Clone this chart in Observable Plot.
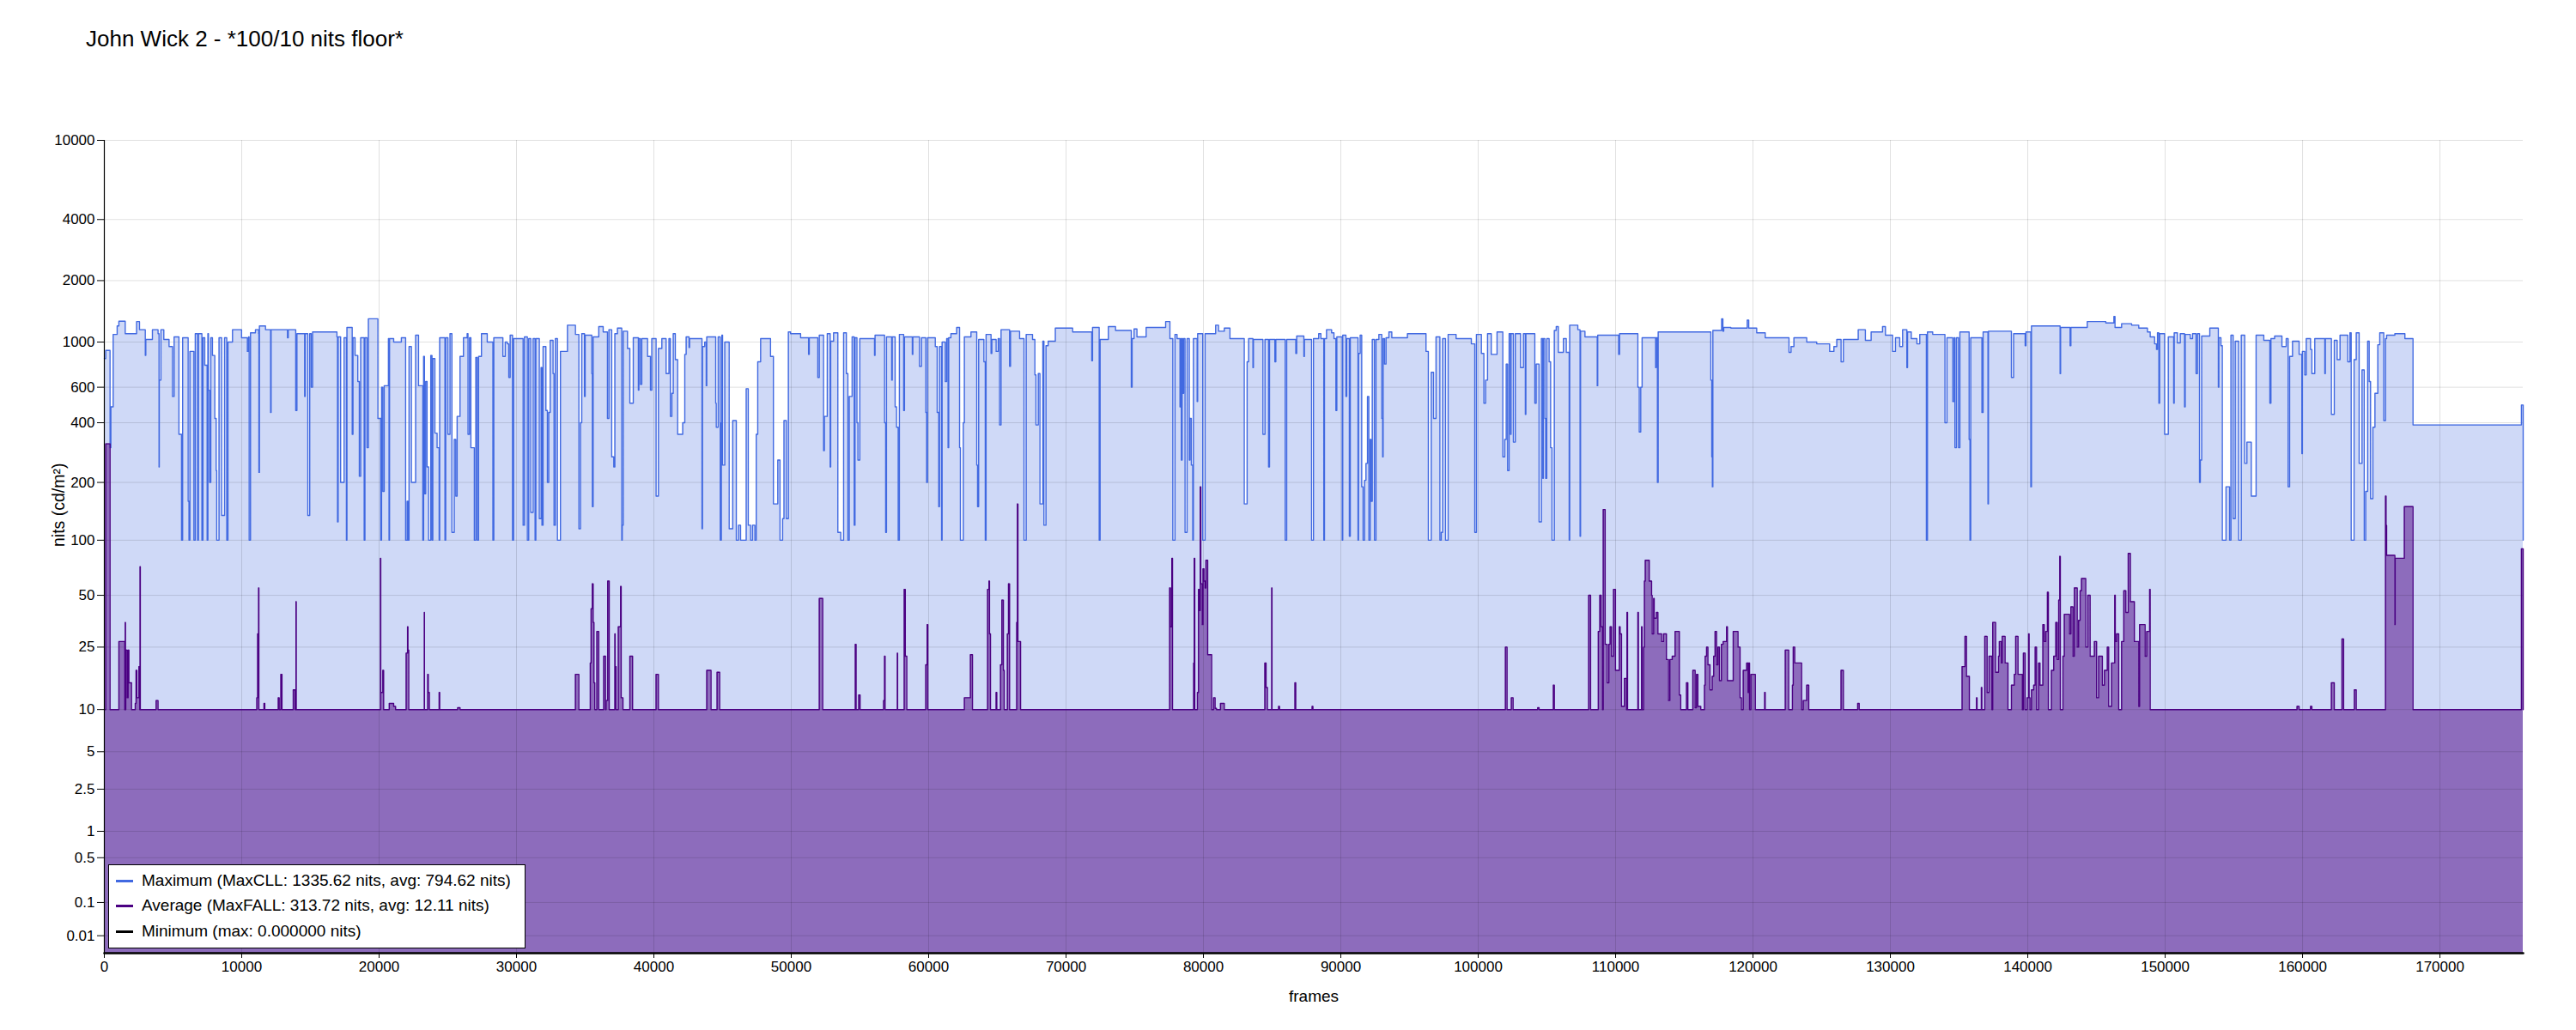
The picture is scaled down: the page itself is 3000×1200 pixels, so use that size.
<!DOCTYPE html>
<html><head><meta charset="utf-8">
<script src="https://cdn.jsdelivr.net/npm/d3@7"></script>
<script src="https://cdn.jsdelivr.net/npm/@observablehq/plot@0.6"></script>
<style>
html,body{margin:0;padding:0;background:#fff;}
body{width:3000px;height:1200px;position:relative;overflow:hidden;font-family:"Liberation Sans",Arial,sans-serif;color:#000;}
#title{position:absolute;left:100px;top:32px;font-size:26px;line-height:26px;white-space:nowrap;}
#chart{position:absolute;left:0;top:80px;}
#legend{position:absolute;left:126px;top:1007px;width:484px;height:96px;border:1px solid #000;background:#fff;font-size:19px;}
.sw{position:absolute;left:8px;width:20px;height:3px;}
.lt{position:absolute;left:38px;height:22px;line-height:22px;white-space:nowrap;}
</style></head>
<body>
<div id="title">John Wick 2 - *100/10 nits floor*</div>
<div id="chart"></div>
<div id="legend"></div>
<script>
// ---- data (frame, nits) step transitions ----
const maxSteps = [
[0,830],[102,910],[415,300],[477,480],[644,1090],[935,1200],[1060,1265],[1520,1100],[2350,1260],[2560,1150],[2980,860],[3020,1030],[3500,1150],[3910,1100],[3980,240],[4000,650],[4120,1150],[4330,1030],[4710,950],[4960,540],[5080,1060],[5430,350],[5620,100],[5700,1050],[6100,160],[6160,100],[6230,900],[6520,100],[6620,1100],[6790,100],[6850,1100],[7100,100],[7180,1050],[7310,770],[7480,100],[7540,1100],[7580,580],[7660,200],[7750,1050],[7870,860],[8040,420],[8140,230],[8180,100],[8350,1050],[8540,135],[8750,1050],[8910,100],[9000,1000],[9330,1150],[9990,1050],[10410,900],[10500,1060],[10540,100],[10640,1110],[11000,1150],[11230,1100],[11250,225],[11290,1200],[11730,1150],[12100,450],[12140,1150],[13330,1050],[13390,1150],[13930,460],[14020,1100],[14580,540],[14620,1100],[14810,135],[14950,1100],[15060,600],[15160,1120],[16930,1060],[16970,125],[17020,1060],[17200,200],[17450,1050],[17620,100],[17660,1180],[18040,350],[18100,1050],[18250,860],[18450,640],[18560,215],[18660,1050],[18910,100],[18970,1050],[19120,300],[19220,1300],[19910,420],[20120,100],[20180,600],[20270,180],[20370,610],[20680,1040],[20720,100],[20760,1040],[21060,1000],[21620,1050],[21930,100],[22040,160],[22100,100],[22180,950],[22350,200],[22660,1080],[22870,610],[23180,100],[23240,850],[23300,175],[23390,640],[23490,240],[23600,100],[23760,860],[23850,100],[23910,830],[24060,355],[24220,300],[24370,100],[24410,1050],[24790,100],[24850,1050],[25010,350],[25160,1100],[25300,110],[25470,330],[25580,170],[25680,430],[25890,850],[26140,1050],[26410,1100],[26470,350],[26580,1050],[26680,300],[26930,100],[27040,840],[27140,100],[27240,850],[27450,1100],[27870,1000],[28280,100],[28350,1050],[29010,850],[29180,1000],
[29330,980],[29440,670],[29540,1080],[29710,100],[29790,1040],[30480,120],[30580,1060],[30790,100],[30890,1040],[31040,140],[31210,1040],[31350,100],[31410,1040],[31660,130],[31790,750],[31850,120],[31935,950],[32140,460],[32250,200],[32350,450],[32455,1020],[32660,700],[32730,120],[32830,1040],[32980,100],[33200,900],[33710,1210],[34290,1090],[34540,115],[34660,400],[34750,1100],[34950,540],[35000,1080],[35480,700],[35520,150],[35580,1060],[35990,1190],[36310,1120],[36620,420],[36730,1150],[36930,270],[37080,240],[37160,1100],[37350,1170],[37660,100],[37700,120],[37770,1130],[38080,930],[38250,500],[38500,1050],[38870,580],[38910,1040],[39020,620],[39120,1040],[39540,850],[39750,580],[39850,1040],[40160,170],[40330,930],[40580,1040],[40890,700],[41100,1040],[41200,430],[41310,560],[41410,1100],[41560,820],[41730,350],[42100,400],[42250,870],[42350,1060],[42560,940],[42600,1040],[43500,115],[43540,950],[43700,1000],[43810,610],[43850,1060],[44500,500],[44540,380],[44680,1060],[44830,100],[44910,400],[44950,1080],[45000,245],[45160,1000],[45480,115],[45740,410],[46000,100],[46160,120],[46310,100],[46720,590],[46870,120],[47040,100],[47180,120],[47350,100],[47450,350],[47560,800],[47770,1040],[48490,850],[48700,155],[49020,260],[49180,100],[49370,130],[49470,410],[49640,130],[49790,1120],[49950,1100],[50680,1050],[51260,870],[51310,1050],[51930,670],[52040,1080],[52350,290],[52410,430],[52620,1100],[52830,240],[52870,1010],[53080,1110],[53390,110],[53600,100],[53810,1110],[54010,700],[54120,100],[54220,540],[54430,1060],[54580,120],[54640,1050],[54780,400],[54850,260],[54990,1040],[56060,860],[56100,1080],[56790,400],[56870,110],[56930,1060],[57310,650],[57350,1060],[57560,480],[57660,380],[57780,100],[57870,1090],[58180,460],[58240,1060],[58810,870],[58850,1060],
[59020,1060],[59330,760],[59480,1050],[59790,450],[59850,200],[59915,1050],[60480,950],[60620,450],[60730,150],[60790,950],[60940,100],[60980,1000],[61210,640],[61310,1040],[61410,300],[61460,1050],[61620,1100],[62040,1180],[62250,300],[62310,100],[62520,400],[62600,1060],[63080,1120],[63500,245],[63560,150],[63640,1030],[64020,800],[64120,100],[64180,1090],[64540,880],[64600,1030],[64910,900],[65060,1040],[65160,390],[65270,1150],[65890,760],[65960,1130],[66620,1040],[66940,100],[67100,1090],[67560,1030],[67730,690],[67810,390],[67980,700],[68100,155],[68310,1010],[68390,120],[68540,960],[68700,1010],[69220,1170],[70480,1120],[71870,810],[71930,1180],[72410,100],[72480,1030],[73080,1190],[73600,1140],[74750,600],[74810,1040],[74950,1160],[75160,1060],[75830,1180],[77250,1260],[77560,1040],[77770,100],[77930,1090],[78080,1040],[78290,480],[78350,1040],[78390,260],[78450,1040],[78500,560],[78560,1040],[78660,110],[78810,1040],[78970,260],[79020,420],[79120,245],[79220,100],[79270,1040],[79540,510],[79580,1100],[79950,100],[80120,1100],[80890,1210],[81100,1130],[81520,1170],[81930,1040],[82970,155],[83180,800],[83290,1040],[83600,750],[83640,1030],[84330,350],[84480,1030],[84740,240],[84810,1030],[85200,800],[85270,1030],[85950,100],[86060,1030],[86720,880],[86790,1070],[87310,850],[87350,1030],[87870,100],[88010,1040],[88390,1100],[88550,1040],[88760,100],
[88810,1040],[88960,1150],[89330,1110],[89500,1040],[89640,460],[89710,1060],[90100,100],[90140,1080],[90370,540],[90430,1040],[90620,105],[90690,1050],[91250,100],[91290,880],[91410,1080],[91520,190],[91620,100],[91730,205],[91830,250],[91940,540],[92040,100],[92140,330],[92200,160],[92290,1030],[92450,100],[92560,1030],[92770,1090],[92980,420],[93040,270],[93080,1040],[93180,780],[93290,1050],[93500,1120],[93710,1050],[94850,1100],[96200,900],[96370,100],[96580,710],[96750,420],[96930,1060],[97210,100],[97310,110],[97410,1040],[97620,100],[97810,1090],[98390,1040],[99500,980],[99750,110],[99870,1090],[100230,880],[100410,500],[100540,650],[100680,1100],[100950,870],[101370,1120],[101790,270],[101930,330],[102040,780],[102140,230],[102250,1100],[102350,350],[102390,1100],[102560,320],[102700,1100],[103080,750],[103290,1100],[103430,440],[103470,1100],[104120,500],[104220,780],[104430,125],[104600,1040],[104700,210],[104740,1040],[104850,420],[104910,210],[104990,1040],[105160,800],[105270,300],[105370,100],[105540,1140],[105680,1190],[105830,890],[106200,1040],[106410,890],[106620,100],[106660,1210],[107250,1150],[107410,105],[107450,1130],[107770,1060],[108660,610],[108700,1080],[110220,870],[110290,1100],[111620,600],[111720,360],[111830,600],[111930,1050],[112910,750],[112950,1050],[113040,200],[113100,1120],[116930,650],[117000,270],[117040,190],[117080,1140],[117720,1300],[117810,1130],[117870,1180],
[118390,1170],[119580,1280],[119690,1170],[120270,1110],[120890,1050],[121310,1050],[122620,890],[122770,950],[122980,1050],[123910,1000],[124640,980],[125580,900],[125890,950],[126100,1030],[126410,800],[126580,1030],[127660,1150],[128180,1020],[128600,1120],[129430,1190],[129640,1080],[130160,900],[130370,1050],[130680,950],[130890,1150],[131200,750],[131250,1120],[131520,1040],[131930,980],[132140,1090],[132620,100],[132700,1120],[133080,1090],[133970,400],[134120,1050],[134540,510],[134640,1050],[134700,300],[134810,1050],[134960,300],[135060,1120],[135730,330],[135790,100],[135850,1050],[136660,450],[136750,1120],[137100,155],[137140,1130],[138810,670],[138970,1100],[139810,960],[139870,1120],[140220,190],[140270,1200],[142350,700],[142390,1180],[143080,960],[143140,1180],[144330,1260],[145680,1240],[146270,1335.62],[146350,1180],[146830,1230],[147560,1210],
[148080,1170],[148710,1120],[148910,1060],[149230,980],[149370,920],[149440,1110],[149540,500],[149600,1100],[149960,350],[150230,1060],[150620,500],[150660,1110],[150890,990],[151100,1100],[151410,480],[151460,1090],[151830,1040],[151995,1100],[152250,700],[152350,1100],[152500,200],[152560,260],[152660,1070],[153250,1170],[153870,600],[153910,1050],[154060,960],[154160,100],[154430,190],[154690,100],[154790,1080],[154950,130],[155100,1010],[155350,100],[155540,1080],[155790,250],[155950,320],[156270,170],[156620,1080],[157180,1020],[157620,500],[157700,1040],[157970,1070],[158500,950],[158810,1040],[158950,190],[159060,850],[159270,1010],[159750,870],[159950,280],[159990,900],[160160,690],[160270,1040],[160580,920],[160680,700],[160890,1040],[161620,700],[161660,1040],[162100,440],[162310,1020],[162520,820],[162730,1080],[163290,800],[163450,1110],[163540,100],[163750,820],[163910,1110],[164120,250],[164330,730],[164490,100],[164600,180],[164740,1010],[164850,640],[164950,165],[165120,380],[165270,560],[165480,970],[165620,1110],[165910,410],[166040,1040],[166120,1080],[166720,1100],[167450,1040],[168040,390],[175930,490],[176060,100]
];
const avgSteps = [
[0,10],[100,313.72],[417,10],[1060,27],[1480,10],[1520,35],[1540,10],[1560,24],[1660,12],[1730,24],[1790,15],[1980,10],[2250,11],[2310,18],[2370,12],[2520,19],[2580,10],[2600,72],[2620,10],[3770,11.5],[3910,10],[11100,12],[11160,30],[11230,55],[11250,10],[11620,11],[11680,10],[12660,12],[12730,10],[12850,17],[12930,10],[13750,13.5],[13890,10],[13950,46],[13970,10],[20100,80],[20120,13],[20270,18],[20330,10],[20740,11],[21060,10.5],[21200,10],[21970,23],[22070,33],[22100,24],[22160,10],[23290,40],[23300,10],[23540,17],[23580,13],[23660,10],[24370,13],[24410,10],[25720,10.3],[25890,10],
[34290,17],[34540,10],[35370,20],[35430,42],[35520,58],[35580,35],[35640,15],[35700,10],[35850,31],[35990,10],[36350,22],[36480,10],[36520,11.5],[36640,60],[36750,10],[37160,30],[37180,19],[37250,10],[37410,33],[37580,56],[37620,12],[37750,10],[38250,22],[38450,10],[40160,17],[40330,10],[43850,18],[44160,10],[44600,17.5],[44790,10],[52040,48],[52290,10],[54660,26],[54720,10],[54910,12.5],[55010,10],[56720,11.5],[56790,22],[56830,10],[57720,23],[57740,10],[58220,54],[58300,22],[58410,10],
[59790,19.5],[59890,34],[59940,10],[62600,12],[63040,22.5],[63190,10],[64290,54],[64390,60],[64430,30],[64500,10],[64910,13],[64960,10],[65230,19.5],[65330,47],[65440,18],[65500,10],[65730,30],[65810,58],[65890,10],[66410,35],[66460,155],[66500,27],[66690,10],[77540,55],[77600,33],[77700,80],[77750,10],[79290,20],[79330,80],[79370,10],[79560,13],[79640,54],[79700,41],[79770,190],[79810,58],[79910,34],[79970,70],[80040,60],[80120,55],[80180,78],[80310,22.5],[80600,10],[80740,12],[80850,10.2],[80950,10],[81240,11],[81520,10],[84470,20],[84560,14],[84660,10],[84970,55],[84990,10],[85470,10.5],[85540,10],[86660,15],[86720,10],[87910,10.5],[87970,10],
[101980,25],[102100,10],[102410,12],[102540,10],[104330,10.3],[104430,10],[105470,14.5],[105540,10],[108040,50],[108180,10],[108740,31],[108850,50],[108950,33],[109040,10],[109100,145],[109240,26],[109390,15],[109510,26],[109600,33],[109700,22],[109850,54],[109990,18],[110270,33],[110330,30],[110430,10.5],[110640,16],[110790,10],[110830,40],[110870,10],[111620,40],[111660,10],[111890,33],[111930,10],[112040,25],[112100,60],[112160,78],[112450,60],[112620,50],[112660,30],[112770,48],[112810,37],[112970,40],[113080,30],[113350,27],[113490,30],[113700,21],[113850,11.5],[113950,21],[114120,22],[114330,31],[114640,12.5],[114740,10],[115160,15],[115260,10],[115620,18],[115790,10.3],[115890,17],[115990,10.5],[116200,10],[116470,14.5],[116520,22],[116620,25],[116720,19.5],[116870,13.5],[117030,16.5],[117140,22],[117240,31],[117350,19.5],[117450,25],[117560,15.5],[117700,26],[117830,27],[118080,33],[118140,15.5],
[118390,15.5],[118560,31],[118910,25],[119060,12],[119160,10],[119290,18],[119540,20],[119640,13],[119690,20],[119750,10],[119850,17],[120170,10],[120850,13],[120890,10],[122350,24],[122600,10],[122870,14.5],[122930,25],[123040,20],[123540,10],[123660,11.5],[123910,14.5],[124060,10],[126410,18],[126580,10],[127620,11],[127730,10],[135220,19],[135430,29],[135540,16.5],[135750,10],[136270,12],[136310,10],[136620,14],[136660,10],[136870,29],[137040,13],[137180,22],[137390,10],[137450,35],[137660,17.5],[137870,22],[137930,27],[138080,20],[138140,29],[138350,20],[138560,10],[138810,14.5],[139020,17],[139120,29],[139290,17],[139600,10],[139680,23],[139810,10],[139950,12],[140060,30],[140100,12],[140160,10],[140270,13.5],[140430,14.5],[140540,25],[140640,10],[140790,20],[140890,14.5],[141100,34],[141200,27],[141310,31],[141430,52],[141500,10],[141720,18],[141890,22],[142040,35],[142140,21],[142250,47],[142330,82],[142370,10],[142560,22],[142660,39],[143040,30],[143140,43],[143290,22],[143390,55],[143600,25],[143700,36],[143810,53],[143910,62],[144220,25],[144370,50],[144540,22],[144850,27],[145010,12],[145160,22],[145430,14.5],[145580,18],[145790,25],[145890,10.5],[146100,20],[146330,50],[146370,27],[146470,30],[146620,10],[146830,27],[146990,53],[147140,40],[147310,85],[147470,46],[147760,27],[148080,10.5],[148140,34],
[148540,22],[148660,31],[148870,54],[148910,10],[159600,10.5],[159750,10],[160580,10.5],[160680,10],[162100,15],[162310,10],[162870,28],[162990,10],[163770,13.5],[163910,10],[166040,170],[166080,120],[166120,83],[166720,34],[166740,80],[167410,150],[168040,10],[175930,90],[176060,10]
];
const minSteps = [[0,0],[176060,0]];
const lastFrame = 176060;
const xTickValues = [0,10000,20000,30000,40000,50000,60000,70000,80000,90000,100000,110000,120000,130000,140000,150000,160000,170000];
const yTickValues = [0.01,0.1,0.5,1,2.5,5,10,25,50,100,200,400,600,1000,2000,4000,10000];
const yTickLabels = ["0.01","0.1","0.5","1","2.5","5","10","25","50","100","200","400","600","1000","2000","4000","10000"];
const seriesNames = ["Maximum (MaxCLL: 1335.62 nits, avg: 794.62 nits)","Average (MaxFALL: 313.72 nits, avg: 12.11 nits)","Minimum (max: 0.000000 nits)"];
const seriesColors = ["royalblue","indigo","black"];

// ---- SMPTE ST 2084 (PQ) encoding for the y scale ----
const m1 = 2610/16384, m2 = 2523/4096*128, c1 = 3424/4096, c2 = 2413/4096*32, c3 = 2392/4096*32;
function pq(n){ const y = Math.pow(Math.max(n,0)/10000, m1); return Math.pow((c1 + c2*y)/(1 + c3*y), m2); }

const toRows = s => s.map(([f, v]) => ({f, v: pq(v)}));
const maxRows = toRows(maxSteps), avgRows = toRows(avgSteps), minRows = toRows(minSteps);
const yTicks = yTickValues.map(pq);
const yLab = new Map(yTicks.map((t, i) => [t, yTickLabels[i]]));

const font = '"Liberation Sans", Arial, sans-serif';
const chart = Plot.plot({
  width: 3000, height: 1120,
  marginTop: 83, marginBottom: 90, marginLeft: 121, marginRight: 62,
  x: {domain: [0, lastFrame]},
  y: {domain: [0, 1]},
  style: {fontFamily: font, fontSize: "17px", background: "white", color: "black", overflow: "visible"},
  marks: [
    Plot.areaY(maxRows, {x: "f", y: "v", curve: "step-after", fill: "royalblue", fillOpacity: 0.25}),
    Plot.areaY(avgRows, {x: "f", y: "v", curve: "step-after", fill: "indigo", fillOpacity: 0.5}),
    Plot.gridY({ticks: yTicks, stroke: "#000", strokeOpacity: 0.12}),
    Plot.gridX({ticks: xTickValues, stroke: "#000", strokeOpacity: 0.12}),
    Plot.lineY(maxRows, {x: "f", y: "v", curve: "step-after", stroke: "royalblue", strokeWidth: 1.4}),
    Plot.lineY(avgRows, {x: "f", y: "v", curve: "step-after", stroke: "indigo", strokeWidth: 1.4}),
    Plot.lineY(minRows, {x: "f", y: "v", stroke: "black", strokeWidth: 2.6}),
    Plot.ruleX([0], {stroke: "black", strokeWidth: 1.2}),
    Plot.axisY({ticks: yTicks, tickFormat: v => yLab.get(v), tickSize: 8, tickPadding: 3, label: null}),
    Plot.axisX({ticks: xTickValues, tickFormat: d => String(d), tickSize: 6, tickPadding: 3, label: null}),
    Plot.text(["frames"], {text: d => d, frameAnchor: "bottom", dy: 50, fontSize: 19, lineAnchor: "middle"}),
    Plot.text(["nits (cd/m²)"], {text: d => d, frameAnchor: "left", dx: -53, rotate: -90, fontSize: 19.5, lineAnchor: "middle"})
  ]
});
document.getElementById("chart").appendChild(chart);

// ---- legend ----
const lg = document.getElementById("legend");
const centers = [18, 47, 77];
seriesNames.forEach((name, i) => {
  const sw = document.createElement("div");
  sw.className = "sw"; sw.style.top = (centers[i] - 1.5) + "px"; sw.style.background = seriesColors[i];
  const t = document.createElement("div");
  t.className = "lt"; t.style.top = (centers[i] - 11) + "px"; t.textContent = name;
  lg.appendChild(sw); lg.appendChild(t);
});
</script>
</body></html>
